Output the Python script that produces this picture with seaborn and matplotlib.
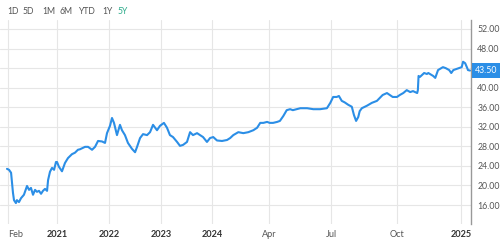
import numpy as np
import pandas as pd
import matplotlib
matplotlib.use("Agg")
import matplotlib.pyplot as plt
import matplotlib.transforms as mtransforms
import seaborn as sns

# ---- data ----
dates = [
    "2020-01-25", "2020-02-08", "2020-02-22", "2020-03-06", "2020-03-13", "2020-03-26",
    "2020-04-02", "2020-04-16", "2020-04-30", "2020-05-20", "2020-06-03", "2020-06-10",
    "2020-06-24", "2020-07-07", "2020-07-21", "2020-08-04", "2020-08-17", "2020-08-31",
    "2020-09-14", "2020-09-27", "2020-10-11", "2020-10-25", "2020-11-01", "2020-11-14",
    "2020-11-28", "2020-12-12", "2020-12-25",
    "2021-01-01", "2021-01-15", "2021-02-05", "2021-02-26", "2021-03-19", "2021-04-16",
    "2021-05-07", "2021-05-28", "2021-06-11", "2021-07-17", "2021-08-07", "2021-09-04",
    "2021-09-25", "2021-10-16", "2021-11-13", "2021-12-04", "2021-12-18",
    "2022-01-08", "2022-01-22", "2022-02-05", "2022-02-26", "2022-03-19", "2022-04-02",
    "2022-04-23", "2022-05-14", "2022-06-11", "2022-07-03", "2022-07-17", "2022-08-07",
    "2022-08-28", "2022-09-25", "2022-10-16", "2022-11-06", "2022-12-04", "2022-12-25",
    "2023-01-22", "2023-02-13", "2023-03-06", "2023-03-28", "2023-04-26", "2023-05-17",
    "2023-06-08", "2023-07-06", "2023-07-28", "2023-08-18", "2023-09-16", "2023-10-07",
    "2023-10-29", "2023-11-26", "2023-12-18",
    "2024-01-03", "2024-01-09", "2024-01-17", "2024-01-25", "2024-01-30", "2024-02-04",
    "2024-02-12", "2024-02-20", "2024-02-28", "2024-03-07", "2024-03-13", "2024-03-18",
    "2024-03-23", "2024-03-29", "2024-04-02", "2024-04-07", "2024-04-13", "2024-04-17",
    "2024-04-22", "2024-04-27", "2024-05-02", "2024-05-06", "2024-05-17", "2024-05-27",
    "2024-06-05", "2024-06-15", "2024-06-25", "2024-06-30", "2024-07-04", "2024-07-09",
    "2024-07-12", "2024-07-16", "2024-07-20", "2024-07-25", "2024-07-30", "2024-08-02",
    "2024-08-05", "2024-08-08", "2024-08-10", "2024-08-13", "2024-08-20", "2024-08-27",
    "2024-09-03", "2024-09-07", "2024-09-11", "2024-09-17", "2024-09-21", "2024-09-25",
    "2024-10-01", "2024-10-05", "2024-10-10", "2024-10-15", "2024-10-20", "2024-10-24",
    "2024-10-30", "2024-10-31", "2024-11-01", "2024-11-03", "2024-11-06", "2024-11-09",
    "2024-11-13", "2024-11-15", "2024-11-22", "2024-11-25", "2024-11-29", "2024-12-06",
    "2024-12-10", "2024-12-15", "2024-12-18", "2024-12-21", "2024-12-25", "2024-12-29",
    "2025-01-02", "2025-01-04", "2025-01-07", "2025-01-10", "2025-01-11", "2025-01-14",
]
prices = [
    23.4, 23.2, 22.6, 18.5, 17.0, 16.4,
    17.0, 16.6, 17.4, 18.1, 19.3, 19.9,
    19.1, 19.5, 18.1, 19.1, 18.7, 18.9,
    18.3, 18.9, 19.3, 18.9, 21.1, 22.8,
    23.6, 23.2, 24.8,
    24.8, 23.8, 22.9, 24.6, 25.6, 26.4,
    26.7, 27.3, 27.4, 27.9, 27.9, 27.3,
    27.9, 29.1, 29.0, 28.7, 30.7,
    32.2, 33.8, 32.8, 30.3, 32.4, 31.3,
    30.3, 28.7, 27.5, 26.8, 27.9, 29.7,
    30.5, 30.3, 30.9, 32.4, 31.3, 32.2,
    32.8, 31.8, 30.3, 29.9, 28.9, 28.1,
    28.3, 28.9, 30.9, 30.3, 30.7, 30.3,
    29.9, 28.9, 29.7,
    29.9, 29.2, 29.1, 29.3, 29.7, 30.3,
    30.9, 30.7, 30.9, 31.3, 31.8, 32.8,
    32.8, 33.0, 32.8, 32.8, 33.0, 33.2,
    34.2, 35.4, 35.6, 35.4, 35.8, 35.8,
    35.6, 35.6, 35.8, 36.9, 38.1, 38.1,
    38.3, 37.3, 37.0, 36.5, 36.1, 34.4,
    33.2, 34.0, 35.2, 35.8, 36.3, 36.9,
    37.3, 37.9, 38.5, 38.9, 38.5, 38.1,
    38.1, 38.5, 38.9, 39.5, 39.1, 39.3,
    38.9, 39.5, 42.4, 42.2, 42.6, 43.0,
    42.8, 43.0, 42.4, 42.0, 43.6, 44.2,
    44.0, 43.6, 43.0, 43.6, 43.8, 44.0,
    44.2, 45.3, 45.0, 44.0, 43.6, 43.5,
]
tick_dates = ["2020-02-01", "2021-01-01", "2022-01-01", "2023-01-01", "2024-01-01",
              "2024-04-01", "2024-07-01", "2024-10-01", "2025-01-01"]
tick_labels = ["Feb", "2021", "2022", "2023", "2024", "Apr", "Jul", "Oct", "2025"]
y_ticks = [16, 20, 24, 28, 32, 36, 40, 44, 48, 52]
last_price = 43.50
ranges = ["1D", "5D", "1M", "6M", "YTD", "1Y", "5Y"]

# ---- layout: compressed time axis (older years squeezed, last year expanded) ----
anchor_pos = np.array([8, 57, 109, 161, 212, 269, 331, 397, 461], dtype=float)
anchor_num = pd.to_datetime(tick_dates).values.astype("datetime64[D]").astype(float)


def to_pos(d):
    t = pd.to_datetime(d).values.astype("datetime64[D]").astype(float)
    t = np.atleast_1d(t)
    out = np.interp(t, anchor_num, anchor_pos)
    lo = t < anchor_num[0]
    hi = t > anchor_num[-1]
    s0 = (anchor_pos[1] - anchor_pos[0]) / (anchor_num[1] - anchor_num[0])
    s1 = (anchor_pos[-1] - anchor_pos[-2]) / (anchor_num[-1] - anchor_num[-2])
    out[lo] = anchor_pos[0] + (t[lo] - anchor_num[0]) * s0
    out[hi] = anchor_pos[-1] + (t[hi] - anchor_num[-1]) * s1
    return out


df = pd.DataFrame({"pos": to_pos(dates), "price": prices})

sns.set_style("white")
plt.rcParams["font.family"] = ["Lato", "DejaVu Sans"]

W, H = 500, 245
fig = plt.figure(figsize=(W / 100, H / 100), dpi=100)
left, right, top, bottom = 0, 471, 20, 224
ax = fig.add_axes([left / W, 1 - bottom / H, (right - left) / W, (bottom - top) / H])

blue = "#2b8ee6"
sns.lineplot(data=df, x="pos", y="price", ax=ax, color=blue, linewidth=1.5)

ax.set_xlim(0, 471)
ax.set_ylim(12.12, 53.84)

xt = to_pos(tick_dates)
ax.set_xticks(xt)
ax.set_xticklabels(tick_labels)
for lab, txt in zip(ax.get_xticklabels(), tick_labels):
    if txt.isdigit():
        lab.set_fontweight("bold")
        lab.set_color("#333333")
    else:
        lab.set_color("#555555")
    lab.set_fontsize(6.6)
ax.get_xticklabels()[0].set_horizontalalignment("left")
ax.tick_params(axis="x", length=0, pad=4)

# the last-price badge sits where the 44.00 label would be, so that label is left blank
ax.yaxis.tick_right()
ax.set_yticks(y_ticks)
ax.set_yticklabels(["" if abs(v - last_price) < 2 else f"{v:.2f}" for v in y_ticks])
ax.tick_params(axis="y", length=0, pad=4.5, labelsize=6.3, labelcolor="#555555")

ax.grid(True, color="#e6e6e6", linewidth=0.8)
ax.set_axisbelow(True)
for s in ["top", "left", "bottom"]:
    ax.spines[s].set_visible(False)
ax.spines["right"].set_color("#999999")
ax.spines["right"].set_linewidth(1.0)
ax.set_xlabel("")
ax.set_ylabel("")

trans = mtransforms.blended_transform_factory(ax.transAxes, ax.transData)
ax.text(1.008, last_price, f"{last_price:.2f}", transform=trans, ha="left", va="center",
        fontsize=6.3, color="white",
        bbox=dict(boxstyle="square,pad=0.3", fc=blue, ec="none"))

xs = [7, 23, 42, 59, 78, 102, 118]
for x, r in zip(xs, ranges):
    fig.text(x / W, 1 - 11 / H, r, fontsize=6.2, va="center", ha="left",
             color="#2bab8a" if r == "5Y" else "#555555")

fig.savefig("out.png", dpi=100)
